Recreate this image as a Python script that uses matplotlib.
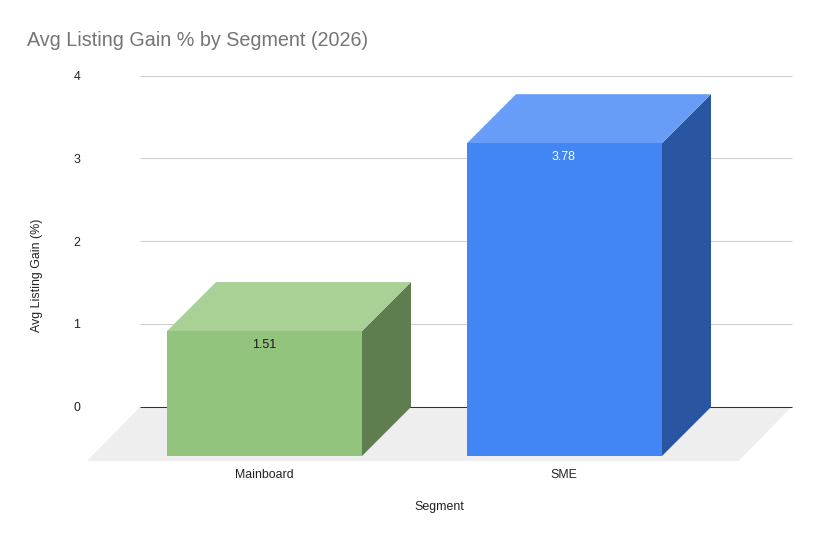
import matplotlib
matplotlib.use('Agg')
import matplotlib.pyplot as plt

segments = ['Mainboard', 'SME']
gains = [1.51, 3.78]
label_colors = ['#1a1a1a', '#ffffff']
front_colors = ['#93c47d', '#4285f4']
top_colors = ['#a9d196', '#679df6']
side_colors = ['#5e7e4f', '#2a55a0']
y_ticks = [0, 1, 2, 3, 4]

W, H = 818, 540
PX_X = 300.0    # pixels per category
PX_Y = 82.75    # pixels per unit of gain
DEPTH = 49.0    # 3d offset in pixels
DX = DEPTH / PX_X
DY = DEPTH / PX_Y
BAR_W = 195.0 / PX_X

plt.rcParams['font.family'] = ['Liberation Sans', 'DejaVu Sans']

fig = plt.figure(figsize=(W / 100, H / 100), dpi=100)
left, right, top, bottom = 60, 800, 60, 470
ax = fig.add_axes([left / W, 1 - bottom / H, (right - left) / W, (bottom - top) / H])
ax.set_xlim((left - 264.5) / PX_X, (right - 264.5) / PX_X)
ax.set_ylim((407 - bottom) / PX_Y, (407 - top) / PX_Y)
ax.axis('off')

# floor and grid sit on the back plane, shifted by the depth offset
back_l = (140 - 264.5) / PX_X
back_r = (791.5 - 264.5) / PX_X
floor_low = (407 - 461) / PX_Y
ax.fill([back_l, back_r, back_r - 53 / PX_X, back_l - 53 / PX_X],
        [0, 0, floor_low, floor_low], color='#eeeeee', lw=0, zorder=1)
for t in y_ticks:
    ax.plot([back_l, back_r], [t + 0.004, t + 0.004], color='#333333' if t == 0 else '#cccccc',
            lw=0.75, zorder=2, solid_capstyle='butt')
    ax.text(back_l - 60 / PX_X, t - 1 / PX_Y, str(t), ha='right', va='center', fontsize=8.9,
            color='#222222')

for i, gain in enumerate(gains):
    x0 = i - BAR_W / 2
    x1 = i + BAR_W / 2
    y0 = -DY
    y1 = gain - DY
    ax.fill([x1, x1 + DX, x1 + DX, x1], [y0, 0, gain, y1], color=side_colors[i], lw=0, zorder=3)
    ax.fill([x0, x1, x1 + DX, x0 + DX], [y1, y1, gain, gain], color=top_colors[i], lw=0, zorder=3)
    ax.fill([x0, x1, x1, x0], [y0, y0, y1, y1], color=front_colors[i], lw=0, zorder=4)
    ax.text(i - 0.002, y1 - 13.5 / PX_Y, f'{gain:.2f}', ha='center', va='center',
            fontsize=8.9, color=label_colors[i], zorder=5)
    fig.text((264 + i * PX_X) / W, 1 - 475 / H, segments[i], ha='center', va='center',
             fontsize=8.9, color='#222222')

fig.text(27 / W, 1 - 40.5 / H, 'Avg Listing Gain % by Segment (2026)', ha='left', va='center',
         fontsize=14.25, color='#757575')
fig.text(439.5 / W, 1 - 507 / H, 'Segment', ha='center', va='center', fontsize=8.9,
         color='#222222')
fig.text(37 / W, 1 - 275 / H, 'Avg Listing Gain (%)', ha='center', va='center', rotation=90,
         fontsize=8.9, color='#222222')

fig.savefig('out.png', dpi=100)
